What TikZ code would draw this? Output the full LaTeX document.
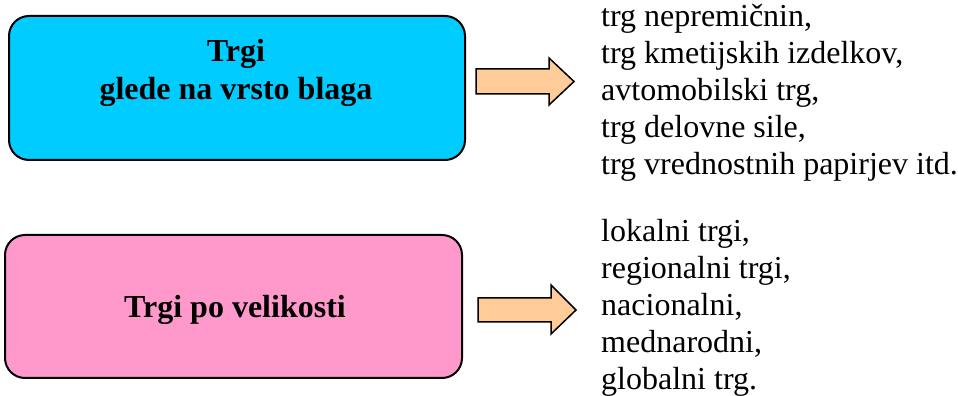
\documentclass[tikz,border=0pt]{standalone}
\usepackage{fontspec}
\setmainfont{Liberation Serif}
\definecolor{boxcyan}{HTML}{00CCFF}
\definecolor{boxpink}{HTML}{FF99CC}
\definecolor{arrowpeach}{HTML}{FFCC99}
\tikzset{
  catbox/.style={draw=black, line width=2pt, rounded corners=20pt, minimum width=456pt, minimum height=144pt, inner sep=0pt},
  cattext/.style={font=\fontsize{32}{38}\selectfont\bfseries, align=center, inner sep=0pt},
  listtext/.style={font=\fontsize{32}{37}\selectfont, align=left, inner sep=0pt, anchor=base west},
  blockarrow/.style={draw=black, line width=1.5pt, fill=arrowpeach, line join=miter}
}
\begin{document}
\begin{tikzpicture}[x=1pt,y=1pt]
\useasboundingbox (0,0) rectangle (958,396);
% boxes
\node[catbox, fill=boxcyan] (b1) at (237,308) {};
\node[catbox, fill=boxpink, minimum width=457pt, minimum height=143pt] (b2) at (233.5,89.5) {};
\node[cattext, anchor=base] (t1) at (236,296) {Trgi\\glede na vrsto blaga};
\node[cattext, anchor=base] (t2) at (235,78) {Trgi po velikosti};
% block arrows
\draw[blockarrow] (476,327) -- (549,327) -- (549,338) -- (574,314.5) -- (549,291) -- (549,302) -- (476,302) -- cycle;
\draw[blockarrow] (478,98) -- (551,98) -- (551,111) -- (576,86) -- (551,62) -- (551,74) -- (478,74) -- cycle;
% lists
\node[listtext] (l1) at (601,221) {trg nepremičnin,\\trg kmetijskih izdelkov,\\avtomobilski trg,\\trg delovne sile,\\trg vrednostnih papirjev itd.};
\node[listtext] (l2) at (601,6) {lokalni trgi,\\regionalni trgi,\\nacionalni,\\mednarodni,\\globalni trg.};
\end{tikzpicture}
\end{document}
